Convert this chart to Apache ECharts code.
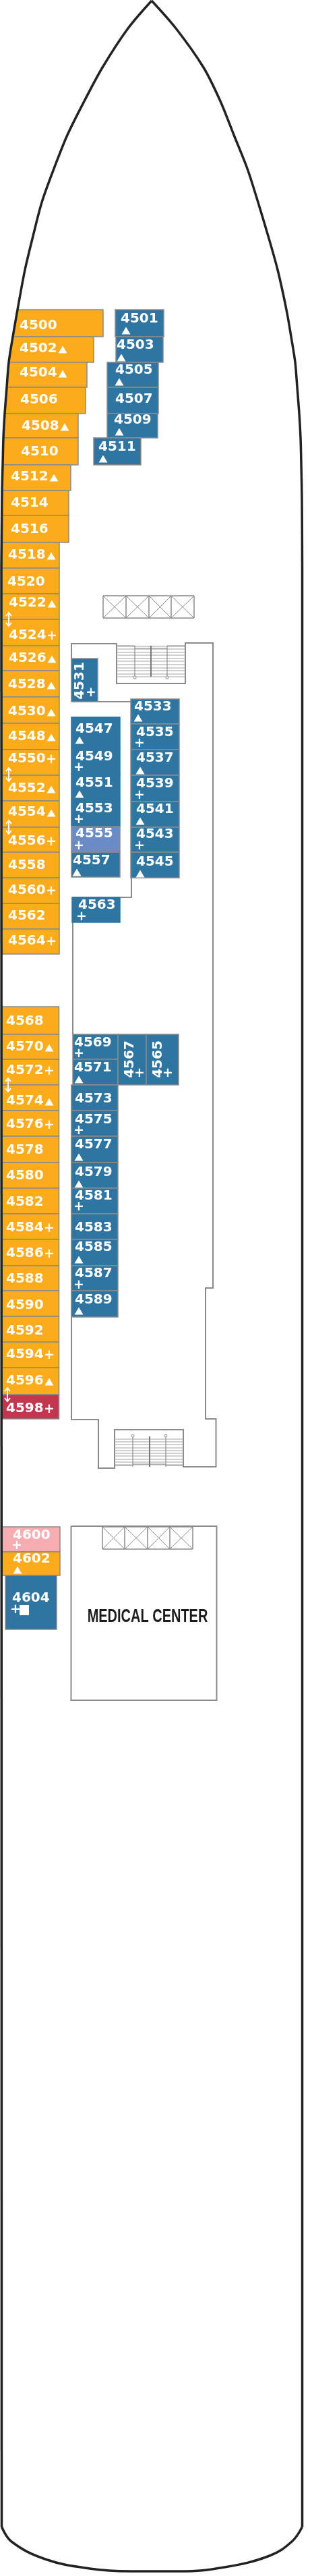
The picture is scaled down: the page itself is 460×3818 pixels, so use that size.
<!DOCTYPE html>
<html>
<head>
<meta charset="utf-8">
<style>html,body{margin:0;padding:0;background:#fff}#deck{width:460px;height:3818px}</style>
<script src="https://cdn.jsdelivr.net/npm/echarts@6/dist/echarts.min.js"></script>
</head>
<body>
<div id="deck"></div>
<script>
// hull outline (x, y in deck pixels)
const bowPort = [[225,1],[190,42],[152,100],[125,150],[100,200],[80,250],[62,300],[49,350],[37,400],[26,459],[19,499],[13,537],[10,574],[7,613],[5,649],[4,689],[3,727],[2.6,773],[2,840]]
const bowStarboard = [[225,1],[261,42],[302,100],[327,150],[347,200],[367,250],[383,300],[398,350],[412,400],[425,459],[432,499],[438,537],[441,574],[444,613],[446,649],[447,689],[448,740],[448.5,840]]
const sidePort = [[2,840],[2.5,3745]]
const sideStarboard = [[448.5,840],[448.5,3745]]
const stern = [[2.5,3745],[17,3767],[67,3793],[133,3807],[193,3811],[267,3811],[333,3805],[400,3788],[433,3767],[448.5,3745]]

// inner walls
const wallFore = [[106,1040],[106,954],[173,954],[173,1013],[275,1013],[275,953],[316,953],[316,1909],[305,1909],[305,2103],[320.5,2103],[320.5,2174],[272,2174],[272,2119],[170,2119],[170,2176],[146,2176],[146,2104],[106,2104],[106,1608]]
const wallFore2 = [[108,1533],[108,1340]]
const wallFore3 = [[107,1330],[195,1330],[195,1036]]
const wallFore4 = [[106,1040],[194,1040]]
const medicalWall = [[105.5,2262],[321.5,2262],[321.5,2520],[105.5,2520],[105.5,2262]]

// elevator banks
const elevatorX = [[153,187,221,254,288],[152,185,219,252,286]]
const elevatorY = [[883,916],[2263,2296]]

// stairs
const stairTreadsFore = [958,962,967,971,976,980,985,990,994,999,1003]
const stairTreadsAft = [2133,2137,2141,2146,2150,2154,2158,2163,2167,2171]

// port side cabins, fore block
const portForeNumbers = ['4500','4502','4504','4506','4508','4510','4512','4514','4516','4518','4520','4522','4524','4526','4528','4530','4548','4550','4552','4554','4556','4558','4560','4562','4564']
const portForeBottoms = [499,537,574,613,649,689,727,764,804,842,880,918,957,994,1033,1072,1111,1149,1187,1226,1263,1301,1339,1377,1414]
const portForeRights = [153,139,129,127,116,116,105,102,102,88,88,88,88,88,88,88,88,88,88,88,88,88,88,88,88]
const portForeLefts = [19,13,10,7,5,4,3,3,3,3,3,3,3,3,3,3,3,3,3,3,3,3,3,3,3]
const portForeLabelX = [29,29,29,30,32,31,16,16,16,12,11,13,13,13,12,12,12,12,12,12,12,12,12,12,12]
const portForeLabelY = [483,517,553,593,632,670,707,746,785,823,863,894,942,976,1015,1055,1092,1125,1169,1204,1247,1283,1320,1358,1395]
const portForeMarks = ['','^','^','','^','','^','','','^','','^','+','^','^','^','^','+','^','^','+','','+','','+']

// port side cabins, aft block
const portAftNumbers = ['4568','4570','4572','4574','4576','4578','4580','4582','4584','4586','4588','4590','4592','4594','4596','4598']
const portAftBottoms = [1533,1570,1608,1646,1684,1723,1761,1799,1837,1876,1913,1951,1989,2027,2067,2103]
const portAftLabelY = [1514,1552,1587,1632,1667,1705,1743,1782,1820,1858,1896,1935,1973,2008,2047,2088]
const portAftMarks = ['','^','+','^','+','','','','+','+','','','','+','^','+']

// mid block cabins (number, with mark under it)
const midNumbers = ['4501','4503','4505','4507','4509','4511','4533','4535','4537','4539','4541','4543','4545','4547','4549','4551','4553','4555','4557','4563','4569','4571','4573','4575','4577','4579','4581','4583','4585','4587','4589','4600','4602','4604']
const midLefts = [171,172,159,159,159,139,194,194,194,194,194,194,194,106,106,106,106,106,106,107,108,108,106,106,106,106,106,106,106,106,106,3,3,8]
const midRights = [243,242,235,235,234,209,266,266,266,266,266,266,266,178,178,178,178,178,178,178,175,175,175,175,175,175,175,175,175,175,175,89,89,84]
const midTops = [459,499,537,574,613,649,1036,1073,1111,1149,1188,1226,1263,1063,1108,1147,1185,1225,1263,1330,1533,1570,1608,1646,1684,1723,1761,1799,1837,1876,1913,2263,2300,2335]
const midBottoms = [499,537,574,613,649,689,1073,1111,1149,1188,1226,1263,1301,1108,1147,1185,1225,1263,1300,1367,1570,1608,1646,1684,1723,1761,1799,1837,1876,1913,1952,2300,2335,2415]
const midLabelX = [179,173,171,171,169,146,199,202,202,202,202,202,202,112,112,112,112,112,108,116,110,110,111,111,111,111,111,111,111,111,111,19,19,18]
const midLabelY = [473,512,549,592,623,663,1048,1086,1124,1162,1200,1237,1278,1081,1122,1161,1199,1236,1276,1342,1546,1583,1629,1660,1697,1738,1773,1820,1849,1888,1927,2276,2311,2369]
const midMarks = ['^','^','^','','^','^','^','+','^','+','^','+','^','^','+','^','+','+','^','+','+','^','','+','^','^','+','','^','+','^','+','^','+s']
const midMarkX = [187,180,177,0,177,153,205,207,208,207,208,207,208,118,117,118,117,117,114,121,117,117,0,117,117,117,117,0,117,117,117,25,26,23]
const midMarkY = [490,530,566,0,640,680,1064,1102,1142,1179,1217,1254,1295,1097,1138,1177,1215,1254,1293,1359,1562,1600,0,1676,1715,1755,1789,0,1867,1905,1943,2291,2327,2386]

// sideways cabins
const turnedNumbers = ['4531','4567','4565']
const turnedLefts = [106,175,217]
const turnedRights = [145,217,265]
const turnedTops = [976,1533,1533]
const turnedBottoms = [1040,1608,1608]
const turnedLabelX = [119,193,235]
const turnedLabelY = [1009,1570,1570]
const turnedPlusX = [135,207,249]
const turnedPlusY = [1027,1591,1591]

// connecting door arrows
const doorArrowX = [13,13,13,12,11]
const doorArrowY = [918,1148,1226,1608,2067]

const ORANGE = '#fcab1b'
const BLUE = '#2e75a1'
const LINE = '#8a8a8a'
const cabinFill = { '4555': '#6a8bc6', '4598': '#c23650', '4600': '#f6adb2' }
const seamless = ['4547', '4549', '4551', '4553', '4563']
const LABEL_FONT = 'bold 20px "DejaVu Sans"'
const PLUS_FONT = 'bold 19px "DejaVu Sans"'
const LABEL_WIDTH = 56

// 所有房间合成一张表
const cabins = []
let prevBottom = 459
let prevLeft = 26
portForeNumbers.forEach((no, i) => {
  cabins.push({
    no, fill: ORANGE,
    pts: [[prevLeft, prevBottom], [portForeRights[i], prevBottom], [portForeRights[i], portForeBottoms[i]], [portForeLefts[i], portForeBottoms[i]]],
    tx: portForeLabelX[i], ty: portForeLabelY[i],
    mark: portForeMarks[i], mx: portForeLabelX[i] + LABEL_WIDTH + 8, my: portForeLabelY[i] + 1
  })
  prevBottom = portForeBottoms[i]
  prevLeft = portForeLefts[i]
})
prevBottom = 1492
portAftNumbers.forEach((no, i) => {
  cabins.push({
    no, fill: cabinFill[no] || ORANGE,
    pts: [[3, prevBottom], [87.5, prevBottom], [87.5, portAftBottoms[i]], [3, portAftBottoms[i]]],
    tx: 9, ty: portAftLabelY[i],
    mark: portAftMarks[i], mx: 9 + LABEL_WIDTH + 8, my: portAftLabelY[i] + 1
  })
  prevBottom = portAftBottoms[i]
})
midNumbers.forEach((no, i) => {
  const fill = cabinFill[no] || (i >= 31 && no === '4602' ? ORANGE : BLUE)
  cabins.push({
    no, fill,
    stroke: seamless.includes(no) ? fill : LINE,
    pts: [[midLefts[i], midTops[i]], [midRights[i], midTops[i]], [midRights[i], midBottoms[i]], [midLefts[i], midBottoms[i]]],
    tx: midLabelX[i], ty: midLabelY[i],
    mark: midMarks[i], mx: midMarkX[i], my: midMarkY[i]
  })
})
turnedNumbers.forEach((no, i) => {
  cabins.push({
    no, fill: BLUE, turned: true,
    pts: [[turnedLefts[i], turnedTops[i]], [turnedRights[i], turnedTops[i]], [turnedRights[i], turnedBottoms[i]], [turnedLefts[i], turnedBottoms[i]]],
    tx: turnedLabelX[i], ty: turnedLabelY[i],
    mark: '+', mx: turnedPlusX[i], my: turnedPlusY[i]
  })
})

function triangle(api, x, y) {
  return {
    type: 'polygon',
    shape: { points: [[x, y - 5.5], [x + 6.5, y + 5.5], [x - 6.5, y + 5.5]].map(p => api.coord(p)) },
    style: { fill: '#fff' }
  }
}

function plusMark(api, x, y) {
  const p = api.coord([x, y])
  return { type: 'text', style: { x: p[0], y: p[1], text: '+', fill: '#fff', font: PLUS_FONT, align: 'center', verticalAlign: 'middle' } }
}

function renderCabin(params, api) {
  const c = cabins[params.dataIndex]
  const children = [{
    type: 'polygon',
    shape: { points: c.pts.map(p => api.coord(p)) },
    style: { fill: c.fill, stroke: c.stroke || LINE, lineWidth: 1.5 }
  }]
  const t = api.coord([c.tx, c.ty])
  if (c.turned) {
    children.push({
      type: 'text', x: t[0], y: t[1], rotation: Math.PI / 2,
      style: { x: 0, y: 0, text: c.no, fill: '#fff', font: LABEL_FONT, align: 'center', verticalAlign: 'middle' }
    })
  } else {
    children.push({ type: 'text', style: { x: t[0], y: t[1], text: c.no, fill: '#fff', font: LABEL_FONT, align: 'left', verticalAlign: 'middle' } })
  }
  if (c.mark === '^') children.push(triangle(api, c.mx, c.my))
  if (c.mark === '+') children.push(plusMark(api, c.mx, c.my))
  if (c.mark === '+s') {
    children.push(plusMark(api, c.mx, c.my))
    const a = api.coord([29, 2379])
    const b = api.coord([43, 2394])
    children.push({ type: 'rect', shape: { x: a[0], y: a[1], width: b[0] - a[0], height: b[1] - a[1] }, style: { fill: '#fff' } })
  }
  return { type: 'group', children }
}

function seg(api, a, b, color, width) {
  const p = api.coord(a)
  const q = api.coord(b)
  return { type: 'line', shape: { x1: p[0], y1: p[1], x2: q[0], y2: q[1] }, style: { stroke: color, lineWidth: width } }
}

function renderElevators(params, api) {
  const xs = elevatorX[params.dataIndex]
  const ys = elevatorY[params.dataIndex]
  const children = [seg(api, [xs[0], ys[0]], [xs[4], ys[0]], LINE, 1.5), seg(api, [xs[0], ys[1]], [xs[4], ys[1]], LINE, 1.5)]
  xs.forEach((x, i) => {
    children.push(seg(api, [x, ys[0]], [x, ys[1]], LINE, 1.5))
    if (i < 4) {
      children.push(seg(api, [x, ys[0]], [xs[i + 1], ys[1]], LINE, 1))
      children.push(seg(api, [x, ys[1]], [xs[i + 1], ys[0]], LINE, 1))
    }
  })
  return { type: 'group', children }
}

function renderStairs(params, api) {
  const fore = params.dataIndex === 0
  const treads = fore ? stairTreadsFore : stairTreadsAft
  const left = fore ? 173 : 170
  const right = fore ? 275 : 272
  const rails = fore ? [200, 224, 248] : [197, 222, 246]
  const top = fore ? 957 : 2129
  const bottom = fore ? 1003 : 2174
  const ball = fore ? bottom + 1 : top - 1
  const children = treads.map(y => seg(api, [left, y], [right, y], '#a3a3a3', 1))
  if (fore) {
    children.push(seg(api, [left, top], [rails[0], top], LINE, 1))
    children.push(seg(api, [rails[0], top + 4], [rails[2], top + 4], LINE, 1))
    children.push(seg(api, [rails[2], top], [right, top], LINE, 1))
  } else {
    children.push(seg(api, [left, bottom - 2], [rails[0], bottom - 2], LINE, 1))
    children.push(seg(api, [rails[0], bottom - 4], [rails[2], bottom - 4], LINE, 1))
    children.push(seg(api, [rails[2], bottom - 2], [right, bottom - 2], LINE, 1))
  }
  children.push(seg(api, [rails[0], top], [rails[0], bottom], LINE, 1.2))
  children.push(seg(api, [rails[1], top], [rails[1], bottom], '#777', 2))
  children.push(seg(api, [rails[2], top], [rails[2], bottom], LINE, 1.2))
  ;[rails[0], rails[2]].forEach(x => {
    const p = api.coord([x, ball])
    children.push({ type: 'circle', shape: { cx: p[0], cy: p[1], r: 2 }, style: { fill: '#fff', stroke: LINE, lineWidth: 1 } })
  })
  return { type: 'group', children }
}

function renderArrow(params, api) {
  const x = doorArrowX[params.dataIndex]
  const y = doorArrowY[params.dataIndex]
  const s = api.coord([x, y - 10])
  const e = api.coord([x, y + 10])
  const stroke = { stroke: '#fff', lineWidth: 2, fill: 'none' }
  return {
    type: 'group',
    children: [
      { type: 'line', shape: { x1: s[0], y1: s[1], x2: e[0], y2: e[1] }, style: stroke },
      { type: 'polyline', shape: { points: [[s[0] - 4, s[1] + 5], s, [s[0] + 4, s[1] + 5]] }, style: stroke },
      { type: 'polyline', shape: { points: [[e[0] - 4, e[1] - 5], e, [e[0] + 4, e[1] - 5]] }, style: stroke }
    ]
  }
}

function renderTitle(params, api) {
  const p = api.coord([219, 2397])
  return {
    type: 'text', x: p[0], y: p[1], scaleX: 0.74,
    style: { x: 0, y: 0, text: 'MEDICAL CENTER', fill: '#1c1c1c', font: 'bold 27px "Liberation Sans Narrow", "Liberation Sans"', align: 'center', verticalAlign: 'middle' }
  }
}

function hullLine(points, smooth) {
  return { type: 'line', data: points, smooth, showSymbol: false, clip: false, z: 6, lineStyle: { color: '#222', width: 3.5 } }
}

function wallLine(points) {
  return { type: 'line', data: points, smooth: false, showSymbol: false, clip: false, z: 2, lineStyle: { color: LINE, width: 2, join: 'miter' } }
}

const chart = echarts.init(document.getElementById('deck'), null, { renderer: 'canvas', width: 460, height: 3818 })
chart.setOption({
  animation: false,
  backgroundColor: '#fff',
  grid: { left: 0, right: 0, top: 0, bottom: 0 },
  xAxis: { type: 'value', min: 0, max: 460, show: false },
  yAxis: { type: 'value', min: 0, max: 3818, inverse: true, show: false },
  series: [
    hullLine(bowPort, 0.3),
    hullLine(bowStarboard, 0.3),
    hullLine(sidePort, false),
    hullLine(sideStarboard, false),
    hullLine(stern, 0.4),
    wallLine(wallFore),
    wallLine(wallFore2),
    wallLine(wallFore3),
    wallLine(wallFore4),
    wallLine(medicalWall),
    { type: 'custom', renderItem: renderElevators, data: elevatorX.map((x, i) => [x[0], elevatorY[i][0]]), clip: false, z: 3 },
    { type: 'custom', renderItem: renderStairs, data: [[173, 957], [170, 2129]], clip: false, z: 3 },
    { type: 'custom', renderItem: renderCabin, data: cabins.map(c => c.pts[0]), clip: false, z: 4 },
    { type: 'custom', renderItem: renderArrow, data: doorArrowX.map((x, i) => [x, doorArrowY[i]]), clip: false, z: 5 },
    { type: 'custom', renderItem: renderTitle, data: [[219, 2397]], clip: false, z: 5 }
  ]
})
</script>
</body>
</html>
